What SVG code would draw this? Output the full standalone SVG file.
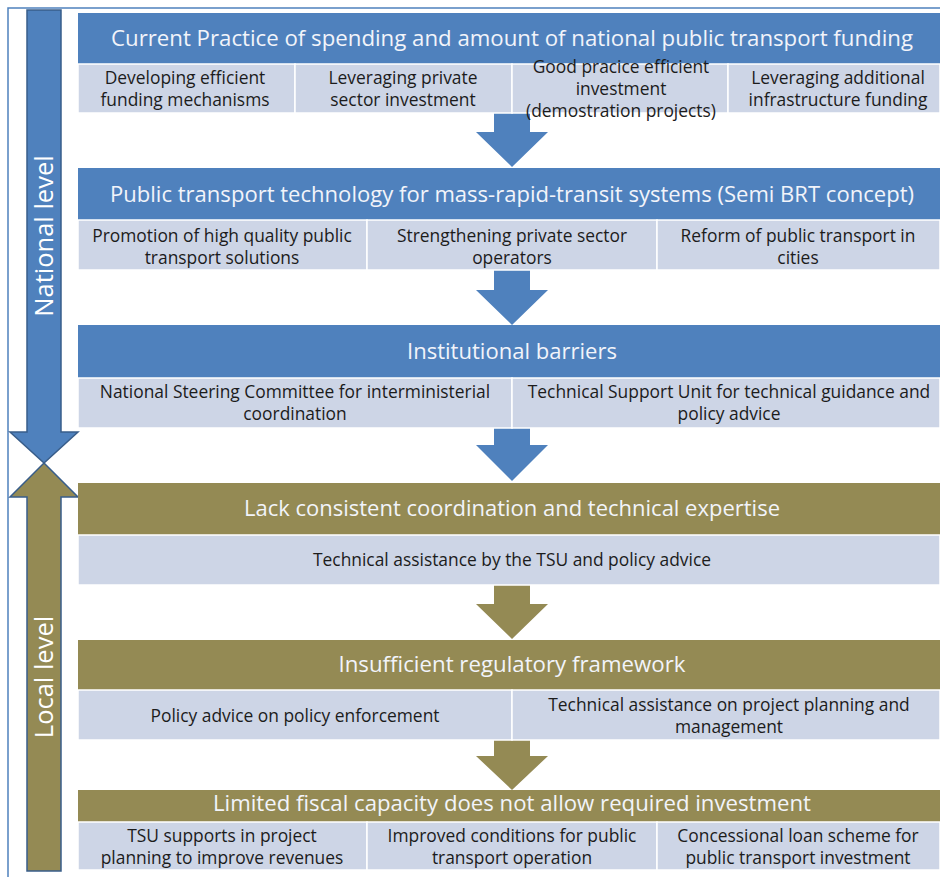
<svg xmlns="http://www.w3.org/2000/svg" width="940" height="877" viewBox="0 0 940 877">
<style>
.hb{fill:#4f81bd}
.hg{fill:#948a54}
.sub{fill:#cdd5e6;stroke:#ffffff;stroke-width:1.5}
.ht{font-family:"Open Sans","Liberation Sans",sans-serif;font-size:21px;fill:#f2f4fa;text-anchor:middle}
.st{font-family:"Open Sans","Liberation Sans",sans-serif;font-size:17.4px;fill:#1c1c1c;text-anchor:middle}
.vt{font-family:"Open Sans","Liberation Sans",sans-serif;font-size:25.5px;fill:#ffffff;text-anchor:middle}
.ab{fill:#4f81bd}
.ag{fill:#948a54}
.big{stroke:#385d8a;stroke-width:1.5}
</style>
<rect width="940" height="877" fill="#ffffff"/>
<path d="M8,877 V8 H940" fill="none" stroke="#4f81bd" stroke-width="1.5"/>

<g id="side-arrows">
<polygon class="ab big" points="27,10 61,10 61,432 78,432 44,463 10,432 27,432"/>
<polygon class="ag big" points="44,463 78,497 61,497 61,871 27,871 27,497 10,497"/>
<text class="vt" transform="translate(53,236) rotate(-90)">National level</text>
<text class="vt" transform="translate(53,677) rotate(-90)">Local level</text>
</g>

<g id="connectors">
<polygon class="ab" points="494,110 530,110 530,132 548,132 512,167 476,132 494,132"/>
<polygon class="ab" points="494,268 530,268 530,290 548,290 512,325 476,290 494,290"/>
<polygon class="ab" points="494,426 530,426 530,445 548,445 512,481 476,445 494,445"/>
<polygon class="ag" points="494,583 530,583 530,604 548,604 512,639 476,604 494,604"/>
<polygon class="ag" points="494,738 530,738 530,756 548,756 512,790 476,756 494,756"/>
</g>

<g id="node-current-practice">
<rect class="hb" x="78" y="13" width="862" height="51"/>
<text class="ht" x="512" y="46" textLength="802" lengthAdjust="spacingAndGlyphs">Current Practice  of spending and amount of national public transport funding</text>
<rect class="sub" x="78" y="64" width="217" height="49"/>
<rect class="sub" x="295" y="64" width="217" height="49"/>
<rect class="sub" x="512" y="64" width="216" height="49"/>
<rect class="sub" x="728" y="64" width="212" height="49"/>
<text class="st" x="185" y="84">Developing efficient</text>
<text class="st" x="185" y="106">funding mechanisms</text>
<text class="st" x="403" y="84">Leveraging private</text>
<text class="st" x="403" y="106">sector investment</text>
<text class="st" x="838" y="84">Leveraging additional</text>
<text class="st" x="838" y="106">infrastructure funding</text>
</g>

<g id="node-technology">
<rect class="hb" x="78" y="168" width="862" height="52"/>
<text class="ht" x="512" y="202" textLength="804" lengthAdjust="spacingAndGlyphs">Public transport technology for mass-rapid-transit systems (Semi BRT concept)</text>
<rect class="sub" x="78" y="220" width="289" height="50"/>
<rect class="sub" x="367" y="220" width="290" height="50"/>
<rect class="sub" x="657" y="220" width="283" height="50"/>
<text class="st" x="222" y="242">Promotion of high quality public</text>
<text class="st" x="222" y="264">transport solutions</text>
<text class="st" x="512" y="242">Strengthening private sector</text>
<text class="st" x="512" y="264">operators</text>
<text class="st" x="798" y="242">Reform of public transport in</text>
<text class="st" x="798" y="264">cities</text>
</g>

<g id="node-institutional">
<rect class="hb" x="78" y="325" width="862" height="53"/>
<text class="ht" x="512" y="359" textLength="210" lengthAdjust="spacingAndGlyphs">Institutional barriers</text>
<rect class="sub" x="78" y="378" width="434" height="50"/>
<rect class="sub" x="512" y="378" width="428" height="50"/>
<text class="st" x="295" y="398">National Steering Committee for interministerial</text>
<text class="st" x="295" y="420">coordination</text>
<text class="st" x="729" y="398">Technical Support Unit for technical guidance and</text>
<text class="st" x="729" y="420">policy advice</text>
</g>

<g id="node-lack-coordination">
<rect class="hg" x="78" y="483" width="862" height="52"/>
<text class="ht" x="512" y="516" textLength="536" lengthAdjust="spacingAndGlyphs">Lack consistent coordination and technical expertise</text>
<rect class="sub" x="78" y="535" width="862" height="50"/>
<text class="st" x="512" y="566">Technical assistance by the TSU and policy advice</text>
</g>

<g id="node-regulatory">
<rect class="hg" x="78" y="640" width="862" height="50"/>
<text class="ht" x="512" y="672" textLength="347" lengthAdjust="spacingAndGlyphs">Insufficient regulatory framework</text>
<rect class="sub" x="78" y="690" width="434" height="50"/>
<rect class="sub" x="512" y="690" width="428" height="50"/>
<text class="st" x="295" y="722">Policy advice on policy enforcement</text>
<text class="st" x="729" y="711">Technical assistance on project planning and</text>
<text class="st" x="729" y="733">management</text>
</g>

<g id="node-fiscal">
<rect class="hg" x="78" y="790" width="862" height="32"/>
<text class="ht" x="512" y="811" textLength="598" lengthAdjust="spacingAndGlyphs">Limited fiscal capacity does not allow required investment</text>
<rect class="sub" x="78" y="822" width="289" height="48"/>
<rect class="sub" x="367" y="822" width="290" height="48"/>
<rect class="sub" x="657" y="822" width="283" height="48"/>
<text class="st" x="222" y="842">TSU supports in project</text>
<text class="st" x="222" y="864">planning to improve revenues</text>
<text class="st" x="512" y="842">Improved conditions for public</text>
<text class="st" x="512" y="864">transport operation</text>
<text class="st" x="798" y="842">Concessional loan scheme for</text>
<text class="st" x="798" y="864">public transport investment</text>
</g>

<g id="overflow-text">
<text class="st" x="621" y="73">Good pracice efficient</text>
<text class="st" x="621" y="95">investment</text>
<text class="st" x="621" y="117">(demostration projects)</text>
</g>
</svg>
